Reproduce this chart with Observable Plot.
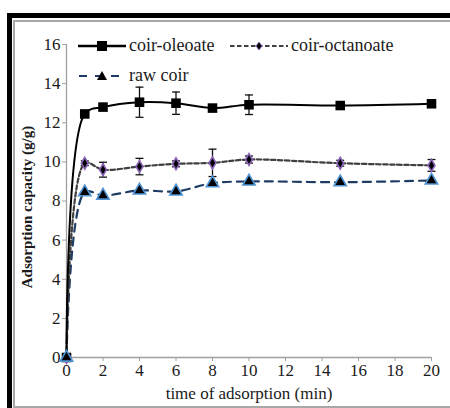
<!DOCTYPE html>
<html>
<head>
<meta charset="utf-8">
<script src="https://cdn.jsdelivr.net/npm/d3@7"></script>
<script src="https://cdn.jsdelivr.net/npm/@observablehq/plot@0.6"></script>
<style>
  html, body { margin: 0; padding: 0; background: #fff; }
  #wrap { position: relative; width: 450px; height: 408px; overflow: hidden; font-family: "Liberation Serif", serif; color: #1a1a1a; }
  #wrap, #wrap * { font-family: "Liberation Serif", serif !important; }
  #frameBlack { position: absolute; left: 7px; top: 13px; width: 460px; height: 420px; border-top: 5px solid #000; border-left: 5px solid #000; box-sizing: border-box; }
  #frameGray { position: absolute; left: 13px; top: 20px; width: 445px; height: 388px; border: 2px solid #a8a8a8; box-sizing: border-box; }
  #chart { position: absolute; left: 0; top: 0; }
  .legend { position: absolute; font-size: 18px; white-space: nowrap; display: flex; align-items: center; }
  .legend svg { margin-right: 3px; }
  #ytitle { position: absolute; left: 27px; top: 207px; transform: translate(-50%, -50%) rotate(-90deg); font-weight: bold; font-size: 15px; white-space: nowrap; }
  #xtitle { position: absolute; left: 249px; top: 394px; transform: translate(-50%, -50%); font-size: 17px; white-space: nowrap; }
</style>
</head>
<body>
<div id="wrap">
  <div id="frameBlack"></div>
  <div id="frameGray"></div>
  <div id="chart"></div>
  <div id="ytitle">Adsorption capacity (g/g)</div>
  <div id="xtitle">time of adsorption (min)</div>
  <div id="leg"></div>
</div>
<script>
// ---- data ----
const times = [0, 1, 2, 4, 6, 8, 10, 15, 20];
const oleoate = [0, 12.45, 12.8, 13.05, 13.0, 12.75, 12.92, 12.88, 12.97];
const oleoateErr = [0, 0.1, 0.1, 0.77, 0.57, 0.08, 0.5, 0.08, 0.1];
const octanoate = [0, 9.93, 9.6, 9.76, 9.9, 9.95, 10.12, 9.93, 9.82];
const octanoateErr = [0, 0.12, 0.38, 0.42, 0.15, 0.7, 0.18, 0.15, 0.3];
const rawCoir = [0, 8.45, 8.28, 8.54, 8.49, 8.91, 9.0, 8.96, 9.05];
const xTicks = [0, 2, 4, 6, 8, 10, 12, 14, 16, 18, 20];
const yTicks = [0, 2, 4, 6, 8, 10, 12, 14, 16];
const seriesNames = ["coir-oleoate", "coir-octanoate", "raw coir"];

const rows = (vals, errs) => times.map((t, i) => ({t, v: vals[i], e: errs ? errs[i] : 0}));
const dOle = rows(oleoate, oleoateErr);
const dOct = rows(octanoate, octanoateErr);
const dRaw = rows(rawCoir, null);

const capSymbol = { draw(ctx, size) { const w = Math.sqrt(size) / 2; ctx.moveTo(-w, 0); ctx.lineTo(w, 0); } };
const errMarks = (d, color) => {
  const dd = d.filter(r => r.e > 0);
  return [
    Plot.ruleX(dd, {x: "t", y1: r => r.v - r.e, y2: r => r.v + r.e, stroke: color, strokeWidth: 1.3}),
    Plot.dot(dd, {x: "t", y: r => r.v + r.e, symbol: capSymbol, r: 4.5, stroke: color, strokeWidth: 1.3}),
    Plot.dot(dd, {x: "t", y: r => r.v - r.e, symbol: capSymbol, r: 4.5, stroke: color, strokeWidth: 1.3})
  ];
};

const chart = Plot.plot({
  width: 450, height: 408,
  marginLeft: 66, marginRight: 19, marginTop: 44, marginBottom: 51,
  style: {fontFamily: '"Liberation Serif", serif', background: "transparent", color: "#1a1a1a"},
  x: {domain: [0, 20]},
  y: {domain: [0, 16]},
  marks: [
    Plot.ruleY([0], {stroke: "#a0a0a0", strokeWidth: 1.3}),
    Plot.ruleX([0], {stroke: "#a0a0a0", strokeWidth: 1.3}),
    Plot.axisX({ticks: xTicks, tickSize: 4, tickPadding: 2, stroke: "#a0a0a0", fill: "#1a1a1a", fontSize: 17, label: null}),
    Plot.axisY({ticks: yTicks, tickSize: 4, tickPadding: 2, stroke: "#a0a0a0", fill: "#1a1a1a", fontSize: 17, label: null}),
    Plot.line(dRaw, {x: "t", y: "v", stroke: "#1f3c64", strokeWidth: 2.2, strokeDasharray: "8,6", curve: "catmull-rom"}),
    Plot.line(dOct, {x: "t", y: "v", stroke: "#404040", strokeWidth: 2.2, strokeDasharray: "4.5,2.5", curve: "catmull-rom"}),
    Plot.line(dOle, {x: "t", y: "v", stroke: "#000", strokeWidth: 2, curve: "catmull-rom"}),
    ...errMarks(dOle, "#111"),
    ...errMarks(dOct, "#111"),
    Plot.dot(dOle, {x: "t", y: "v", symbol: "square", r: 5.4, fill: "#000"}),
    Plot.dot(dOct, {x: "t", y: "v", symbol: "diamond", r: 3.6, fill: "#000", stroke: "#8a62b8", strokeWidth: 1.6}),
    Plot.dot(dRaw, {x: "t", y: "v", symbol: "triangle", r: 4.6, fill: "#000", stroke: "#4f94d4", strokeWidth: 1.6})
  ]
});
document.getElementById("chart").appendChild(chart);

// ---- legend ----
const leg = document.getElementById("leg");
function sample(kind) {
  const ns = "http://www.w3.org/2000/svg";
  const s = document.createElementNS(ns, "svg");
  const w = kind === 1 ? 58 : 48;
  const c = w / 2;
  s.setAttribute("width", w); s.setAttribute("height", 14);
  const l = document.createElementNS(ns, "line");
  l.setAttribute("x1", 0); l.setAttribute("x2", w); l.setAttribute("y1", 7); l.setAttribute("y2", 7);
  let m;
  if (kind === 0) {
    l.setAttribute("stroke", "#000"); l.setAttribute("stroke-width", 2.4);
    m = document.createElementNS(ns, "rect");
    m.setAttribute("x", c - 5); m.setAttribute("y", 2); m.setAttribute("width", 10); m.setAttribute("height", 10); m.setAttribute("fill", "#000");
  } else if (kind === 1) {
    l.setAttribute("stroke", "#404040"); l.setAttribute("stroke-width", 2); l.setAttribute("stroke-dasharray", "4.5,2.5");
    m = document.createElementNS(ns, "path");
    m.setAttribute("d", `M${c},3 L${c + 3},7 L${c},11 L${c - 3},7 Z`); m.setAttribute("fill", "#000"); m.setAttribute("stroke", "#8a62b8"); m.setAttribute("stroke-width", 0.8);
  } else {
    l.setAttribute("stroke", "#1f3c64"); l.setAttribute("stroke-width", 2.2); l.setAttribute("stroke-dasharray", "8,8"); l.setAttribute("stroke-dashoffset", "-1");
    m = document.createElementNS(ns, "path");
    m.setAttribute("d", `M${c},2 L${c + 5},11 L${c - 5},11 Z`); m.setAttribute("fill", "#000");
  }
  s.appendChild(l); s.appendChild(m);
  return s;
}
const legPos = [[78, 47], [230, 47], [78, 77]];
seriesNames.forEach((name, i) => {
  const item = document.createElement("div");
  item.className = "legend";
  item.style.left = legPos[i][0] + "px";
  item.style.top = (legPos[i][1] - 12) + "px";
  item.appendChild(sample(i));
  const t = document.createElement("span");
  t.textContent = name;
  item.appendChild(t);
  leg.appendChild(item);
});
</script>
</body>
</html>
